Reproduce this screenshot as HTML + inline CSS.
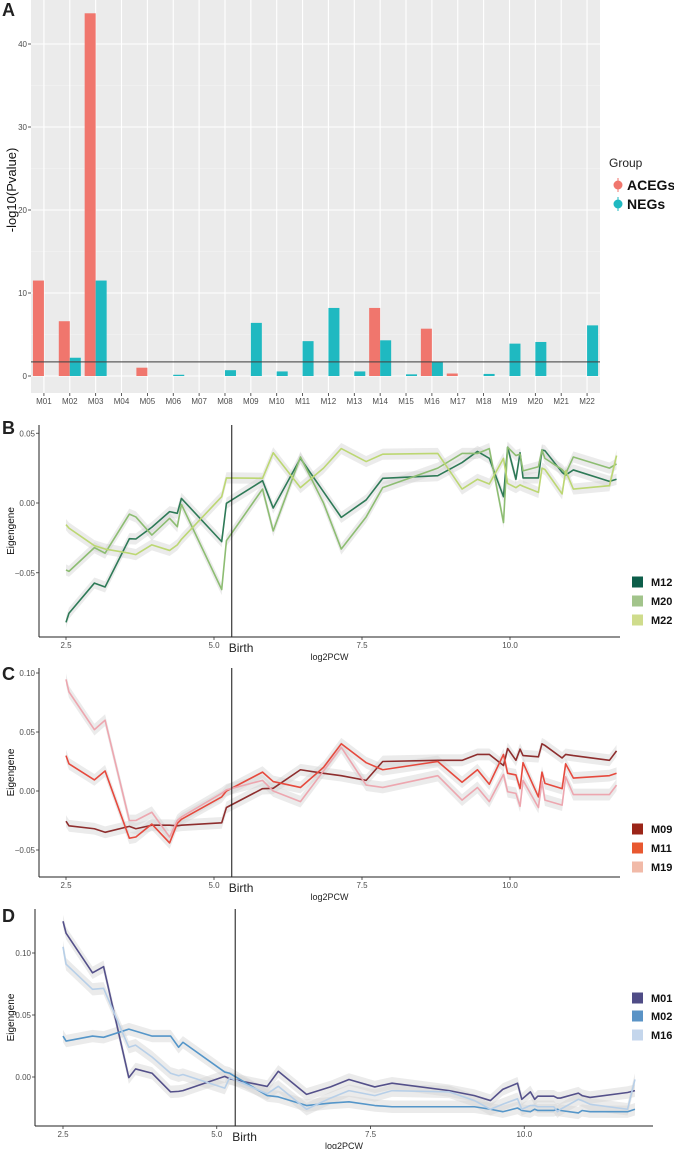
<!DOCTYPE html>
<html><head><meta charset="utf-8"><style>
html,body{margin:0;padding:0;background:#fff;}
svg{display:block;font-family:"Liberation Sans",sans-serif;}
</style></head><body>
<svg id="fig" width="674" height="1149" viewBox="0 0 674 1149" xmlns="http://www.w3.org/2000/svg"></svg>
<script>
// ---- Panel A data ----
const modules = ["M01","M02","M03","M04","M05","M06","M07","M08","M09","M10","M11","M12","M13","M14","M15","M16","M17","M18","M19","M20","M21","M22"];
const acegVals = [11.5,6.6,43.7,0,1.0,0,0,0,0,0,0,0,0,8.2,0,5.7,0.3,0,0,0,0,0];
const negVals  = [0,2.2,11.5,0,0,0.15,0,0.7,6.4,0.55,4.2,8.2,0.55,4.3,0.2,1.7,0,0.25,3.9,4.1,0,6.1];
const aTicks = [0,10,20,30,40];
const threshold = 1.7;
// ---- Panels B-D shared ages (log2PCW) ----
const ages = [2.5,2.55,2.98,3.16,3.57,3.68,3.95,4.25,4.38,4.45,5.13,5.21,5.82,6.0,6.46,6.85,7.15,7.57,7.85,8.78,9.19,9.45,9.65,9.89,9.96,10.1,10.17,10.22,10.48,10.54,10.59,10.88,10.94,11.07,11.68,11.8];
const xTicks = [2.5,5.0,7.5,10.0];
const birth = 5.3;
// Panel B
const m12 = [-0.0856,-0.079,-0.0574,-0.0602,-0.0256,-0.0258,-0.0174,-0.0062,-0.0074,0.0033,-0.0277,-0.0002,0.016,-0.0036,0.032,0.008,-0.0103,0.0022,0.0177,0.0196,0.029,0.037,0.032,0.0045,0.040,0.017,0.036,0.018,0.018,0.038,0.0375,0.022,0.020,0.0237,0.0155,0.017];
const m20 = [-0.048,-0.049,-0.032,-0.036,-0.008,-0.010,-0.023,-0.011,-0.017,-0.001,-0.062,-0.027,0.010,-0.020,0.033,0.0,-0.033,-0.010,0.011,0.025,0.0355,0.0355,0.039,-0.014,0.040,0.034,0.035,0.023,0.026,0.038,0.032,0.024,0.021,0.033,0.025,0.028];
const m22 = [-0.0155,-0.018,-0.0306,-0.033,-0.036,-0.037,-0.030,-0.034,-0.030,-0.026,0.0045,0.018,0.0177,0.036,0.011,0.025,0.039,0.0297,0.035,0.0355,0.010,0.017,0.0136,0.032,0.014,0.011,0.013,0.012,0.0076,0.025,0.024,0.0065,0.023,0.010,0.0124,0.034];
const bTicks = [-0.05,0.00,0.05];
// Panel C
const m09 = [-0.0256,-0.0295,-0.032,-0.035,-0.030,-0.032,-0.029,-0.029,-0.0295,-0.029,-0.027,-0.014,0.002,0.0023,0.018,0.015,0.013,0.009,0.025,0.026,0.026,0.031,0.031,0.0216,0.036,0.026,0.0355,0.030,0.029,0.040,0.0386,0.028,0.031,0.030,0.026,0.034];
const m11 = [0.030,0.023,0.0094,0.017,-0.040,-0.039,-0.028,-0.044,-0.0275,-0.024,-0.005,0.0,0.016,0.008,0.003,0.020,0.040,0.024,0.018,0.025,0.0074,0.018,0.0057,0.031,0.015,0.0136,0.002,0.024,-0.005,0.016,0.0065,0.002,0.023,0.011,0.013,0.015];
const m19 = [0.0946,0.084,0.052,0.060,-0.025,-0.025,-0.018,-0.039,-0.025,-0.022,-0.002,0.001,0.009,0.0,-0.009,0.017,0.037,0.005,0.003,0.013,-0.0077,0.003,-0.009,0.014,-0.0006,-0.002,-0.013,0.009,-0.014,0.008,-0.0077,-0.012,0.012,-0.003,-0.003,0.005];
const cTicks = [-0.05,0.00,0.05,0.10];
// Panel D
const m01 = [0.1256,0.116,0.084,0.089,-0.0005,0.0065,0.003,-0.012,-0.0116,-0.011,0.0005,-0.0014,-0.0076,0.0046,-0.014,-0.008,-0.002,-0.008,-0.005,-0.011,-0.015,-0.019,-0.010,-0.005,-0.018,-0.012,-0.018,-0.0155,-0.0155,-0.017,-0.017,-0.013,-0.015,-0.0165,-0.0125,-0.011];
const m02 = [0.033,0.029,0.033,0.032,0.0386,0.037,0.033,0.033,0.024,0.028,0.004,0.003,-0.015,-0.016,-0.023,-0.021,-0.020,-0.023,-0.024,-0.024,-0.024,-0.026,-0.028,-0.025,-0.027,-0.028,-0.026,-0.027,-0.027,-0.026,-0.027,-0.029,-0.027,-0.028,-0.028,-0.026];
const m16 = [0.105,0.091,0.0707,0.0715,0.024,0.0257,0.016,0.003,0.001,0.002,-0.009,-0.0005,-0.0135,-0.0075,-0.026,-0.017,-0.011,-0.015,-0.011,-0.012,-0.019,-0.026,-0.022,-0.0175,-0.026,-0.023,-0.023,-0.024,-0.024,-0.028,-0.026,-0.018,-0.019,-0.022,-0.026,-0.002];
const dTicks = [0.00,0.05,0.10];

const NS="http://www.w3.org/2000/svg";
const svg=document.getElementById('fig');
function el(tag,attrs,parent,text){const e=document.createElementNS(NS,tag);for(const k in attrs)e.setAttribute(k,attrs[k]);if(text!==undefined)e.textContent=text;(parent||svg).appendChild(e);return e;}

// ===== Panel A =====
const gA=el('g',{});


const aL=31,aR=600,aT=0,aB=393,aZero=376,aPer=8.3;
const ay=v=>aZero-v*aPer;
const band=(aR-aL)/modules.length;
const ax=i=>aL+band*(i+0.5);
const bg=el('rect',{x:aL,y:aT,width:aR-aL,height:aB-aT,fill:'#EBEBEB'},gA);


for(let v=5;v<45;v+=10){el('line',{x1:aL,x2:aR,y1:ay(v),y2:ay(v),stroke:'#F5F5F5','stroke-width':0.6},gA);}
aTicks.forEach(t=>{
  el('line',{x1:aL,x2:aR,y1:ay(t),y2:ay(t),stroke:'#fff','stroke-width':1.1},gA);
  el('line',{x1:aL-3,x2:aL,y1:ay(t),y2:ay(t),stroke:'#333','stroke-width':0.8},gA);
  const tl=el('text',{x:aL-4,y:ay(t)+3,'font-size':8,fill:'#4D4D4D','text-anchor':'end'},gA,String(t));
  
  
});
modules.forEach((m,i)=>{
  el('line',{x1:ax(i),x2:ax(i),y1:aT,y2:aB,stroke:'#fff','stroke-width':1.1},gA);
  el('line',{x1:ax(i),x2:ax(i),y1:aB,y2:aB+3,stroke:'#333','stroke-width':0.8},gA);
  const tl=el('text',{x:ax(i),y:aB+11,'font-size':8,fill:'#4D4D4D','text-anchor':'middle'},gA,m);
  
  
});
const bw=11;
modules.forEach((m,i)=>{
  if(acegVals[i]>0){const r=el('rect',{x:ax(i)-bw,y:ay(acegVals[i]),width:bw,height:aZero-ay(acegVals[i]),fill:'#F0766D'},gA);
    
    }
  if(negVals[i]>0){const r=el('rect',{x:ax(i),y:ay(negVals[i]),width:bw,height:aZero-ay(negVals[i]),fill:'#1FB9C1'},gA);
    
    }
});
const thr=el('line',{x1:aL,x2:aR,y1:ay(threshold),y2:ay(threshold),stroke:'#444','stroke-width':1.3,opacity:0.85},gA);


const aTitle=el('text',{x:0,y:0,'font-size':13,fill:'#111','text-anchor':'middle',transform:'translate(16,190) rotate(-90)'},gA,'-log10(Pvalue)');


const la=el('text',{x:2,y:16,'font-size':18,'font-weight':'bold',fill:'#222'},gA,'A');


const lgT=el('text',{x:609,y:167,'font-size':12,fill:'#222'},gA,'Group');


[['ACEGs','#F0766D',185],['NEGs','#1FB9C1',204]].forEach(([n,c,y])=>{
  const g=el('g',{},gA);
  
  
  el('line',{x1:618,x2:618,y1:y-7,y2:y+7,stroke:c,'stroke-width':1},g);
  el('circle',{cx:618,cy:y,r:4.5,fill:c},g);
  el('text',{x:627,y:y+5,'font-size':14,'font-weight':'bold',fill:'#111'},g,n);
});

// ===== line panels =====
function linePanel(o){
  const g=el('g',{});
  
  
  const X=v=>o.x0+(v-2.5)*o.xs, Y=v=>o.zero-v*o.ys;
  // ribbons
  o.series.forEach(s=>{
    let up=ages.map((a,i)=>X(a)+','+Y(s.vals[i]+o.se)).join(' ');
    let dn=ages.map((a,i)=>X(a)+','+Y(s.vals[i]-o.se)).reverse().join(' ');
    el('polygon',{points:up+' '+dn,fill:'#D3D3D3',opacity:0.45},g);
  });
  o.series.forEach(s=>{
    const p=el('polyline',{points:ages.map((a,i)=>X(a)+','+Y(s.vals[i])).join(' '),fill:'none',stroke:s.line,'stroke-width':1.6,'stroke-linejoin':'round'},g);
    
    
  });
  const bl=el('line',{x1:X(birth),x2:X(birth),y1:o.top,y2:o.bot,stroke:'#111','stroke-width':1},g);
  
  
  el('line',{x1:o.axX,x2:o.axX,y1:o.top,y2:o.bot,stroke:'#222','stroke-width':1},g);
  el('line',{x1:o.axX,x2:o.right,y1:o.bot,y2:o.bot,stroke:'#222','stroke-width':1},g);
  o.yt.forEach(t=>{
    el('line',{x1:o.axX-3,x2:o.axX,y1:Y(t),y2:Y(t),stroke:'#333','stroke-width':0.8},g);
    const tl=el('text',{x:o.axX-4,y:Y(t)+3,'font-size':8,fill:'#4D4D4D','text-anchor':'end'},g,t.toFixed(2).replace('-','\u2212'));
    
    
  });
  xTicks.forEach(t=>{
    el('line',{x1:X(t),x2:X(t),y1:o.bot,y2:o.bot+3,stroke:'#333','stroke-width':0.8},g);
    const tl=el('text',{x:X(t),y:o.bot+11,'font-size':8,fill:'#4D4D4D','text-anchor':'middle'},g,t.toFixed(1));
    
    
  });
  const bt=el('text',{x:X(birth)-3,y:o.bot+15,'font-size':12,fill:'#222'},g,'Birth');
  
  
  const xt=el('text',{x:(o.axX+o.right)/2,y:o.bot+23,'font-size':9,fill:'#222','text-anchor':'middle'},g,'log2PCW');
  
  
  const yt=el('text',{x:0,y:0,'font-size':10,fill:'#111','text-anchor':'middle',transform:`translate(14,${(o.top+o.bot)/2}) rotate(-90)`},g,'Eigengene');
  
  
  const lb=el('text',{x:2,y:o.labY,'font-size':18,'font-weight':'bold',fill:'#222'},g,o.label);
  
  
  o.series.forEach((s,i)=>{
    const lg=el('g',{},g);
    
    
    const cy=o.legY[i];
    el('rect',{x:632,y:cy-5.5,width:11,height:11,fill:s.key},lg);
    el('text',{x:651,y:cy+4,'font-size':11,'font-weight':'bold',fill:'#111'},lg,s.n);
  });
}
linePanel({name:'panel-b',label:'B',labY:434,x0:66,xs:59.2,zero:503,ys:1395,top:425,bot:637,axX:39,right:620,se:0.004,yt:bTicks,legY:[582,601,620],
  series:[{n:'M12',vals:m12,line:'#2E7A57',key:'#0D5E4A'},{n:'M20',vals:m20,line:'#8DBD72',key:'#A2C48B'},{n:'M22',vals:m22,line:'#BCD772',key:'#CFDC8C'}]});
linePanel({name:'panel-c',label:'C',labY:680,x0:66,xs:59.2,zero:791,ys:1180,top:668,bot:877,axX:39,right:620,se:0.005,yt:cTicks,legY:[829,848,867],
  series:[{n:'M09',vals:m09,line:'#8E2E2E',key:'#9B2518'},{n:'M11',vals:m11,line:'#E64A3E',key:'#E85830'},{n:'M19',vals:m19,line:'#EDA6AF',key:'#F1BAA8'}]});
linePanel({name:'panel-d',label:'D',labY:922,x0:63,xs:61.5,zero:1077,ys:1240,top:909,bot:1126,axX:35,right:653,se:0.005,yt:dTicks,legY:[998,1016,1035],
  series:[{n:'M01',vals:m01,line:'#54508A',key:'#4F4C86'},{n:'M02',vals:m02,line:'#5596C9',key:'#5A93C6'},{n:'M16',vals:m16,line:'#B7CFE8',key:'#C4D6EC'}]});
</script>
</body></html>
